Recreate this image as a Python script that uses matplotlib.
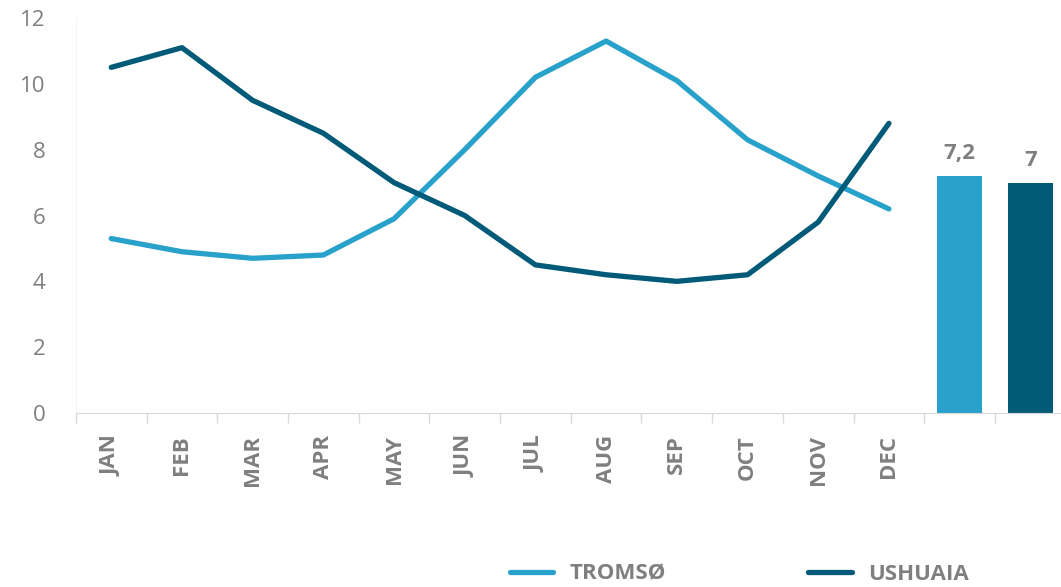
import matplotlib.pyplot as plt
import numpy as np

# dados
meses = ['JAN', 'FEB', 'MAR', 'APR', 'MAY', 'JUN', 'JUL', 'AUG', 'SEP', 'OCT', 'NOV', 'DEC']
tromso = [5.3, 4.9, 4.7, 4.8, 5.9, 8.0, 10.2, 11.3, 10.1, 8.3, 7.2, 6.2]
ushuaia = [10.5, 11.1, 9.5, 8.5, 7.0, 6.0, 4.5, 4.2, 4.0, 4.2, 5.8, 8.8]
medias = [7.2, 7]
rotulos_medias = ['7,2', '7']

azul = '#28A1CB'
escuro = '#005A78'
cinza = '#7F7F7F'

plt.rcParams['font.family'] = ['Open Sans', 'DejaVu Sans']

fig = plt.figure(figsize=(10.61, 5.87), dpi=100)
ax = fig.add_axes([0.0715, 0.2964, 0.9329, 0.6729])

x = np.arange(len(meses))
ax.plot(x, tromso, color=azul, lw=3.8, label='TROMSØ', solid_capstyle='round')
ax.plot(x, ushuaia, color=escuro, lw=3.8, label='USHUAIA', solid_capstyle='round')

xb = np.arange(len(meses), len(meses) + len(medias))
barras = ax.bar(xb, medias, width=0.64, color=[azul, escuro])
for b, t in zip(barras, rotulos_medias):
    ax.text(b.get_x() + b.get_width() / 2, b.get_height() + 0.35, t,
            ha='center', va='bottom', color=cinza, fontsize=16, fontweight='bold')

ax.set_xlim(-0.5, len(meses) + len(medias) - 0.5)
ax.set_ylim(0, 12)
ax.set_yticks(range(0, 13, 2))
ax.set_xticks(x)
ax.set_xticklabels(meses, rotation=90, fontweight='bold', fontsize=16, color=cinza)
ax.set_xticks(np.arange(-0.5, len(meses) + len(medias)), minor=True)
ax.tick_params(axis='x', which='major', length=0, pad=16)
ax.tick_params(axis='x', which='minor', length=7, color='#D9D9D9', width=1)
ax.tick_params(axis='y', length=0, pad=22, labelsize=16, labelcolor=cinza)

for s in ['top', 'right']:
    ax.spines[s].set_visible(False)
ax.spines['left'].set_color('#F4F4F4')
ax.spines['bottom'].set_color('#D9D9D9')

fig.legend(loc='lower center', bbox_to_anchor=(0.697, -0.03), ncol=2, frameon=False,
           prop={'weight': 'bold', 'size': 16}, labelcolor=cinza,
           handlelength=1.95, columnspacing=6.4, handletextpad=0.75)

fig.savefig('out.png', dpi=100)
